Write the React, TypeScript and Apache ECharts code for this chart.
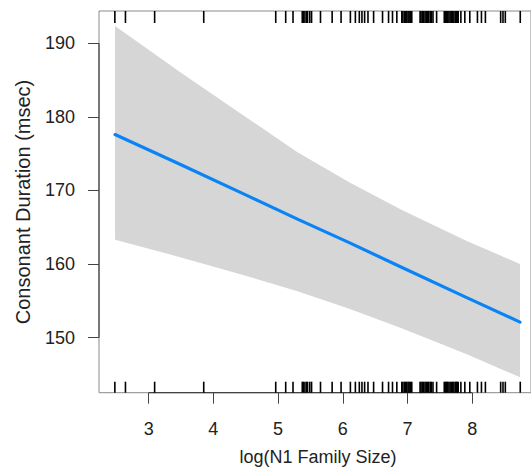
import React, { useEffect, useRef } from "react";
import * as echarts from "echarts";

// Fitted effect line and its confidence band
const fitX = [2.48, 3.5, 4.5, 5.3, 6.1, 6.9, 7.9, 8.74];
const fitY = [177.6, 173.5, 169.4, 166.1, 162.9, 159.6, 155.5, 152.1];
const bandUpper = [192.35, 186.0, 180.0, 175.2, 171.1, 167.4, 163.2, 160.0];
const bandLower = [163.3, 160.9, 158.4, 156.3, 153.9, 151.3, 147.8, 144.6];

// Rug (observed x values)
const rugX = [
  2.477, 2.641, 3.092, 3.851, 4.964, 5.118, 5.231, 5.374, 5.39, 5.415, 5.44,
  5.456, 5.49, 5.518, 5.656, 5.836, 5.974, 6.118, 6.195, 6.256, 6.297, 6.338,
  6.39, 6.477, 6.615, 6.708, 6.769, 6.836, 6.913, 6.93, 6.954, 6.97, 6.99,
  7.01, 7.026, 7.045, 7.067, 7.195, 7.21, 7.231, 7.25, 7.272, 7.29, 7.313,
  7.33, 7.354, 7.37, 7.395, 7.451, 7.569, 7.59, 7.605, 7.62, 7.641, 7.66,
  7.682, 7.7, 7.718, 7.74, 7.754, 7.77, 7.785, 7.826, 7.887, 7.964, 8.082,
  8.144, 8.205, 8.441, 8.477, 8.513, 8.744,
];

// Tick labels
const xTicks = [3, 4, 5, 6, 7, 8];
const yTicks = [150, 160, 170, 180, 190];

const xTitle = "log(N1 Family Size)";
const yTitle = "Consonant Duration (msec)";

const FONT = "'Liberation Sans', Arial, Helvetica, sans-serif";
const X_MIN = 2.232;
const X_MAX = 8.91;
const Y_MIN = 142.5;
const Y_MAX = 194.4;

export default function App() {
  const ref = useRef<HTMLDivElement>(null);

  useEffect(() => {
    if (!ref.current) return;
    const chart = echarts.init(ref.current, null, { renderer: "svg" });

    const option: any = {
      animation: false,
      backgroundColor: "#ffffff",
      grid: {
        left: 99,
        top: 11,
        right: -3,
        bottom: 75.3,
        show: true,
        borderColor: "#8a8a8a",
        borderWidth: 1,
        backgroundColor: "transparent",
      },
      xAxis: {
        type: "value",
        min: X_MIN,
        max: X_MAX,
        splitLine: { show: false },
        axisLine: { show: false },
        axisTick: {
          show: true,
          customValues: xTicks,
          length: 11,
          lineStyle: { color: "#444", width: 1 },
        },
        axisLabel: {
          customValues: xTicks,
          margin: 27,
          fontSize: 18,
          fontFamily: FONT,
          color: "#222",
        },
      },
      yAxis: {
        type: "value",
        min: Y_MIN,
        max: Y_MAX,
        splitLine: { show: false },
        axisLine: { show: false },
        axisTick: {
          show: true,
          customValues: yTicks,
          length: 11,
          lineStyle: { color: "#444", width: 1 },
        },
        axisLabel: {
          customValues: yTicks,
          margin: 24,
          fontSize: 18,
          fontFamily: FONT,
          color: "#222",
        },
      },
      graphic: [
        {
          type: "text",
          x: 318,
          y: 457,
          style: {
            text: xTitle,
            fontSize: 18,
            fontFamily: FONT,
            fill: "#222",
            align: "center",
            verticalAlign: "middle",
          },
        },
        {
          type: "text",
          x: 23,
          y: 202,
          rotation: Math.PI / 2,
          style: {
            text: yTitle,
            fontSize: 20,
            fontFamily: FONT,
            fill: "#222",
            align: "center",
            verticalAlign: "middle",
          },
        },
      ],
      series: [
        {
          type: "custom",
          name: "band",
          silent: true,
          z: 1,
          data: [[fitX[0], fitY[0]]],
          renderItem: (params: any, api: any) => {
            const pts: number[][] = [];
            for (let i = 0; i < fitX.length; i++) {
              pts.push(api.coord([fitX[i], bandUpper[i]]));
            }
            for (let i = fitX.length - 1; i >= 0; i--) {
              pts.push(api.coord([fitX[i], bandLower[i]]));
            }
            return {
              type: "polygon",
              shape: { points: pts },
              style: { fill: "#d6d6d6", stroke: "none" },
            };
          },
        },
        {
          type: "line",
          name: "fit",
          z: 3,
          showSymbol: false,
          symbol: "none",
          data: fitX.map((x, i) => [x, fitY[i]]),
          lineStyle: { color: "#0a84f5", width: 3.2, cap: "round" },
        },
        {
          type: "custom",
          name: "axes",
          silent: true,
          z: 4,
          data: [[xTicks[0], yTicks[0]]],
          renderItem: (params: any, api: any) => {
            const cs = params.coordSys;
            const bottom = cs.y + cs.height;
            const left = cs.x;
            const xa = api.coord([xTicks[0], Y_MIN])[0];
            const xb = api.coord([xTicks[xTicks.length - 1], Y_MIN])[0];
            const ya = api.coord([X_MIN, yTicks[0]])[1];
            const yb = api.coord([X_MIN, yTicks[yTicks.length - 1]])[1];
            return {
              type: "group",
              children: [
                {
                  type: "line",
                  shape: { x1: xa, y1: bottom, x2: xb, y2: bottom },
                  style: { stroke: "#444", lineWidth: 1.2 },
                },
                {
                  type: "line",
                  shape: { x1: left, y1: ya, x2: left, y2: yb },
                  style: { stroke: "#444", lineWidth: 1.2 },
                },
              ],
            };
          },
        },
        {
          type: "custom",
          name: "rug",
          silent: true,
          z: 5,
          data: rugX.map((x) => [x]),
          renderItem: (params: any, api: any) => {
            const cs = params.coordSys;
            const px = api.coord([api.value(0), Y_MIN])[0];
            const top = cs.y;
            const bottom = cs.y + cs.height;
            return {
              type: "group",
              children: [
                {
                  type: "line",
                  shape: { x1: px, y1: top, x2: px, y2: top + 12 },
                  style: { stroke: "#000", lineWidth: 1.6 },
                },
                {
                  type: "line",
                  shape: { x1: px, y1: bottom - 11, x2: px, y2: bottom },
                  style: { stroke: "#000", lineWidth: 1.6 },
                },
              ],
            };
          },
        },
      ],
    };

    chart.setOption(option);
    return () => chart.dispose();
  }, []);

  return (
    <div
      ref={ref}
      style={{ position: "absolute", left: 0, top: 0, width: 531, height: 468 }}
    />
  );
}
